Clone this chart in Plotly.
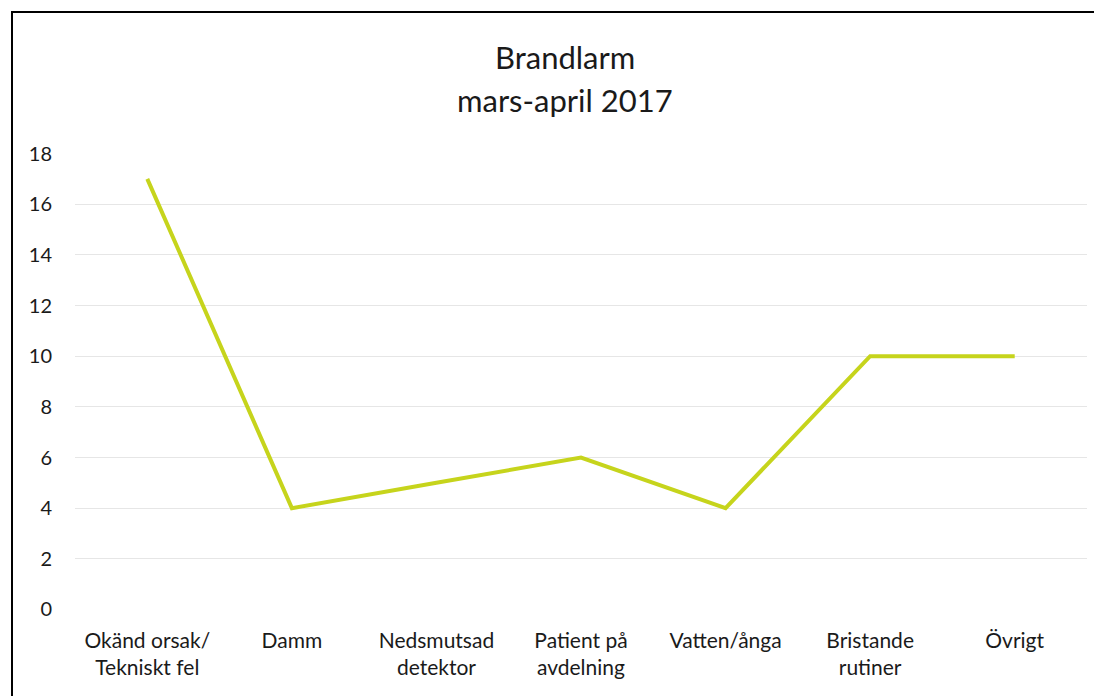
import plotly.graph_objects as go

categories = ["Okänd orsak/<br>Tekniskt fel", "Damm", "Nedsmutsad<br>detektor",
              "Patient på<br>avdelning", "Vatten/ånga", "Bristande<br>rutiner", "Övrigt"]
values = [17, 4, 5, 6, 4, 10, 10]
y_ticks = [0, 2, 4, 6, 8, 10, 12, 14, 16, 18]

OFF = 8  # default page body margin
W, H = 1102 - OFF, 696 - OFF
L, T = 75 - OFF, 153 - OFF
R = W - (1087 - OFF)
B = H - (610 - OFF)
pw, ph = W - L - R, H - T - B

FONT = "Lato, 'Open Sans', sans-serif"
TXT = "#1a1a1a"

fig = go.Figure(go.Scatter(
    x=categories, y=values, mode="lines",
    line=dict(color="#c6d41c", width=4),
))

fig.update_layout(
    width=W, height=H,
    margin=dict(l=L, r=R, t=T, b=B),
    paper_bgcolor="white", plot_bgcolor="white",
    showlegend=False,
    font=dict(family=FONT, color=TXT),
    xaxis=dict(type="category", range=[-0.5, 6.5], showgrid=False, zeroline=False,
               showline=False, ticks="", tickfont=dict(size=21, color=TXT),
               ticklabelstandoff=16),
    yaxis=dict(range=[-0.02, 18.02], tickvals=y_ticks, showgrid=True, gridcolor="#e6e6e6",
               gridwidth=1, zeroline=False, showline=False, ticks="",
               tickfont=dict(size=20, color=TXT), ticklabelstandoff=22),
)

cx = (565 - OFF - L) / pw
fig.add_annotation(text="Brandlarm", xref="paper", yref="paper",
                   x=cx, y=1 + (T - (57 - OFF)) / ph, showarrow=False,
                   font=dict(size=31, family=FONT, color=TXT), yanchor="middle")
fig.add_annotation(text="mars-april 2017", xref="paper", yref="paper",
                   x=cx, y=1 + (T - (100 - OFF)) / ph, showarrow=False,
                   font=dict(size=31, family=FONT, color=TXT), yanchor="middle")

fig.add_shape(type="rect", xref="paper", yref="paper",
              x0=(12 - OFF - L) / pw, x1=(W + 10 - L) / pw,
              y0=-(B + 10) / ph, y1=1 + (T - (12 - OFF)) / ph,
              line=dict(color="black", width=2), fillcolor="rgba(0,0,0,0)")

fig.write_html("out.html")
